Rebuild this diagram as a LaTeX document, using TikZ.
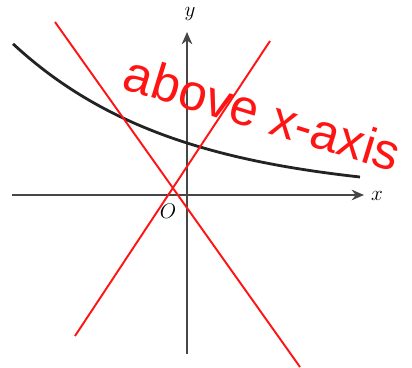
\documentclass[tikz,border=0pt]{standalone}
\usepackage{fontspec}
\newfontfamily\handfont{Liberation Sans}
\usetikzlibrary{arrows.meta}
\definecolor{axisc}{RGB}{70,70,70}
\definecolor{curvec}{RGB}{35,35,35}
\definecolor{markc}{RGB}{255,20,20}
\tikzset{
  axis/.style={draw=axisc, line width=1.7pt, -{Stealth[length=7pt,width=6pt]}},
  graph/.style={draw=curvec, line width=1.6pt},
  cross/.style={draw=markc, line width=1.1pt},
  lbl/.style={font=\large\itshape, inner sep=0pt},
  scrawl/.style={text=markc, font=\handfont\fontsize{29}{31}\selectfont, inner sep=0pt},
}

\begin{document}
\begin{tikzpicture}[x=0.02cm, y=-0.02cm]
\useasboundingbox (0,0) rectangle (412,368);

% ------------------------------------------------- axes
\coordinate (xl) at (12,195);
\coordinate (xr) at (364,195);
\coordinate (yb) at (187,354);
\coordinate (yt) at (187,32);
\draw[axis] (xl) -- (xr);
\draw[axis] (yb) -- (yt);
\node[lbl] (xlab) at (377,196) {$x$};
\node[lbl] (ylab) at (190,14) {$y$};
\node[lbl] (olab) at (168,211) {$O$};

% ------------------------------------------------- decreasing curve
\draw[graph] plot[domain=13:360, samples=60, smooth]
  (\x, {195-52*exp(-0.00613*(\x-187))});

% ------------------------------------------------- red marks
\coordinate (c1a) at (55,22);
\coordinate (c1b) at (300,367);
\coordinate (c2a) at (75,336);
\coordinate (c2b) at (270,41);
\draw[cross] (c1a) -- (c1b);
\draw[cross] (c2a) -- (c2b);
\node[scrawl, rotate=-17] (note) at (263,113) {above x-axis};

\end{tikzpicture}
\end{document}
